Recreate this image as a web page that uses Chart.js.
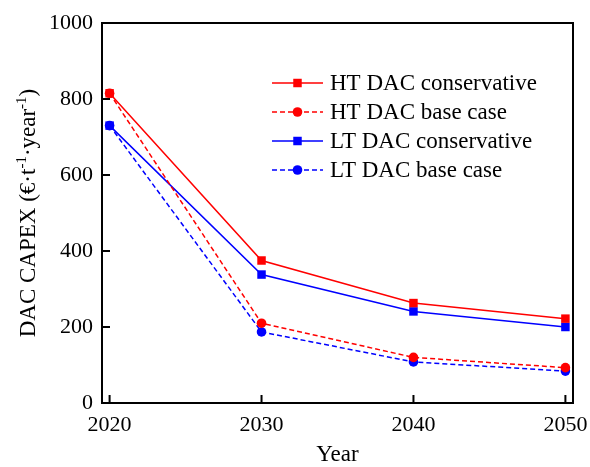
<!DOCTYPE html>
<html>
<head>
<meta charset="utf-8">
<script src="https://cdn.jsdelivr.net/npm/chart.js@4.4.0/dist/chart.umd.min.js"></script>
<style>
  body { margin: 0; background: #fff; }
  #wrap { width: 590px; height: 467px; }
</style>
</head>
<body>
<div id="wrap"><canvas id="myChart"></canvas></div>
<script>
// data block
const years = [2020, 2030, 2040, 2050];
const htConservative = [815, 375, 263, 222];
const htBase = [815, 210, 120, 93];
const ltConservative = [730, 338, 241, 200];
const ltBase = [730, 187, 108, 84];
const seriesNames = ['HT DAC conservative', 'HT DAC base case', 'LT DAC conservative', 'LT DAC base case'];
const xTicks = [2020, 2030, 2040, 2050];
const yTicks = [0, 200, 400, 600, 800, 1000];

const FONT = "'Liberation Serif', 'Times New Roman', serif";
const RED = '#ff0000';
const BLUE = '#0000ff';
const DASH = [5, 3];

const pts = arr => years.map((y, i) => ({ x: y, y: arr[i] }));

function line(label, arr, color, dashed, style) {
    return {
        label: label,
        data: pts(arr),
        borderColor: color,
        backgroundColor: color,
        borderWidth: 1.5,
        borderDash: dashed ? DASH : [],
        pointStyle: style,
        pointRadius: style === 'rect' ? 6 : 4.8,
        pointBorderWidth: 0,
        tension: 0
    };
}

const data = {
    datasets: [
        line(seriesNames[0], htConservative, RED, false, 'rect'),
        line(seriesNames[1], htBase, RED, true, 'circle'),
        line(seriesNames[2], ltConservative, BLUE, false, 'rect'),
        line(seriesNames[3], ltBase, BLUE, true, 'circle')
    ]
};

// frame, inward ticks, legend and y title
const decorations = {
    id: 'decorations',
    afterDraw: chart => {
        const ctx = chart.ctx;
        const a = chart.chartArea;
        const xs = chart.scales.x;
        const ys = chart.scales.y;
        ctx.save();
        ctx.strokeStyle = '#000';
        ctx.lineWidth = 2;
        ctx.strokeRect(a.left, a.top, a.right - a.left, a.bottom - a.top);
        ctx.beginPath();
        xTicks.forEach(v => {
            const px = xs.getPixelForValue(v);
            ctx.moveTo(px, a.bottom);
            ctx.lineTo(px, a.bottom - 8);
        });
        yTicks.forEach(v => {
            const py = ys.getPixelForValue(v);
            ctx.moveTo(a.left, py);
            ctx.lineTo(a.left + 8, py);
        });
        ctx.stroke();

        // legend
        ctx.font = '23px ' + FONT;
        ctx.textBaseline = 'middle';
        ctx.textAlign = 'left';
        chart.data.datasets.forEach((ds, i) => {
            const yy = 83 + i * 29;
            ctx.strokeStyle = ds.borderColor;
            ctx.lineWidth = 1.5;
            ctx.setLineDash(ds.borderDash);
            ctx.beginPath();
            ctx.moveTo(272, yy);
            ctx.lineTo(323, yy);
            ctx.stroke();
            ctx.setLineDash([]);
            ctx.fillStyle = ds.backgroundColor;
            Chart.helpers.drawPoint(ctx, { pointStyle: ds.pointStyle, radius: ds.pointRadius, borderWidth: 0 }, 297.5, yy);
            ctx.fillStyle = '#000';
            ctx.fillText(ds.label, 330, yy + 1);
        });

        // y title with superscripts
        const parts = [
            ['DAC CAPEX (\u20ac\u00b7t', false],
            ['-1', true],
            ['\u00b7year', false],
            ['-1', true],
            [')', false]
        ];
        const big = '23px ' + FONT;
        const small = '15px ' + FONT;
        let total = 0;
        parts.forEach(p => {
            ctx.font = p[1] ? small : big;
            total += ctx.measureText(p[0]).width;
        });
        ctx.translate(27, (a.top + a.bottom) / 2);
        ctx.rotate(-Math.PI / 2);
        ctx.fillStyle = '#000';
        ctx.textBaseline = 'alphabetic';
        let cx = -total / 2;
        parts.forEach(p => {
            ctx.font = p[1] ? small : big;
            ctx.fillText(p[0], cx, p[1] ? -1 : 8);
            cx += ctx.measureText(p[0]).width;
        });
        ctx.restore();
    }
};

const config = {
    type: 'line',
    data: data,
    options: {
        responsive: true,
        maintainAspectRatio: false,
        animation: false,
        layout: {
            padding: { left: 0, top: 23, right: 17, bottom: 0 }
        },
        plugins: {
            legend: { display: false },
            tooltip: { enabled: false }
        },
        scales: {
            x: {
                type: 'linear',
                min: 2019.5,
                max: 2050.5,
                afterBuildTicks: s => { s.ticks = xTicks.map(v => ({ value: v })); },
                afterFit: s => {
                    s.height = 64;
                    s.paddingLeft = 0;
                    s.paddingRight = 0;
                },
                grid: { display: false, drawTicks: false },
                border: { display: false },
                ticks: {
                    color: '#000',
                    padding: 9,
                    maxRotation: 0,
                    font: { family: FONT, size: 22 },
                    callback: v => String(v)
                },
                title: {
                    display: true,
                    text: 'Year',
                    color: '#000',
                    font: { family: FONT, size: 23, lineHeight: 1 },
                    padding: { top: 0, bottom: 1 }
                }
            },
            y: {
                min: 0,
                max: 1000,
                afterBuildTicks: s => { s.ticks = yTicks.map(v => ({ value: v })); },
                afterFit: s => {
                    s.width = 102;
                    s.paddingTop = 0;
                    s.paddingBottom = 0;
                },
                grid: { display: false, drawTicks: false },
                border: { display: false },
                ticks: {
                    color: '#000',
                    padding: 9,
                    font: { family: FONT, size: 22 },
                    callback: v => String(v)
                }
            }
        }
    },
    plugins: [decorations]
};

const myChart = new Chart(document.getElementById('myChart'), config);
</script>
</body>
</html>
